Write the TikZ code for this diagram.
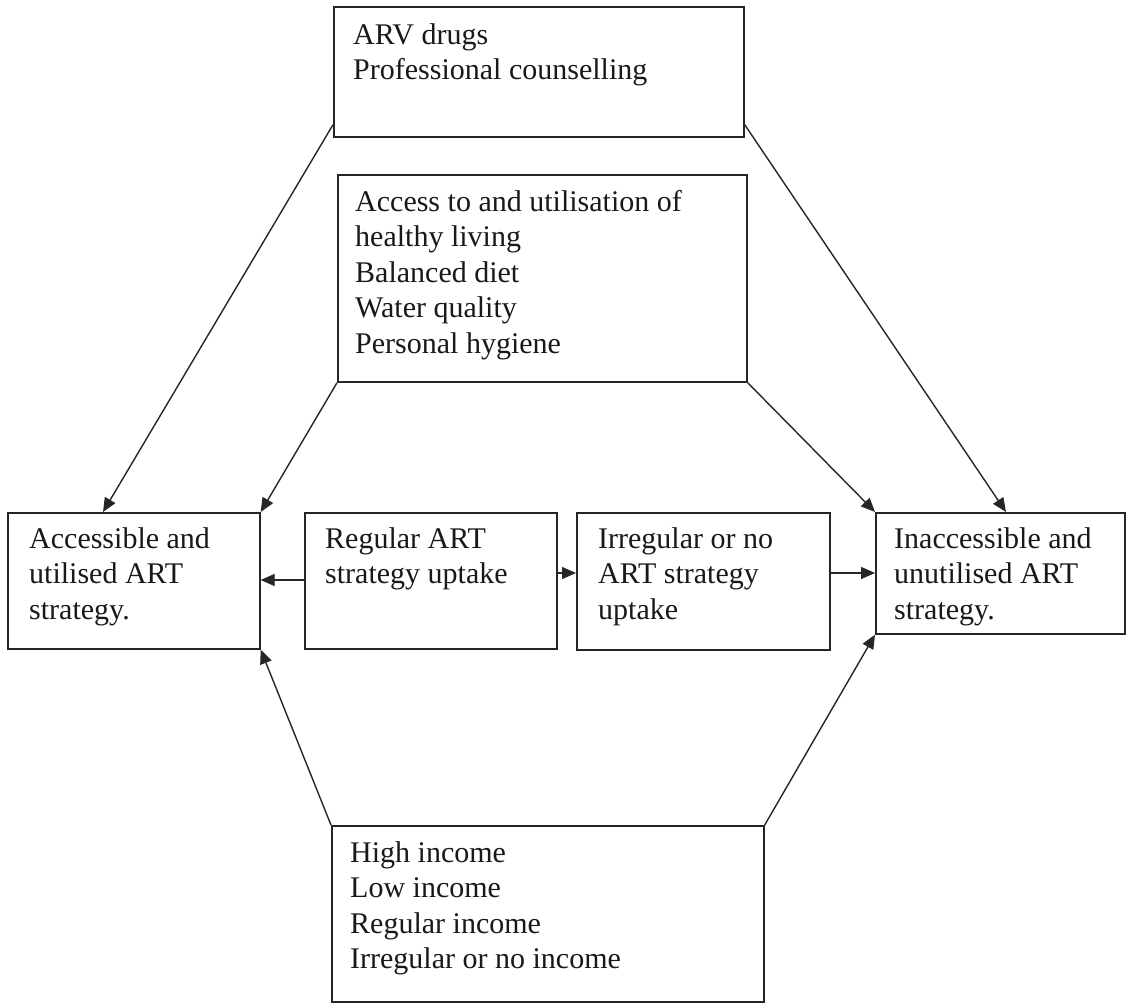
\documentclass[tikz,border=0pt]{standalone}
\usepackage{fontspec}
\setmainfont{Liberation Serif}
\usetikzlibrary{arrows.meta,calc}
\tikzset{
  box/.style={draw=black!85, line width=1.7pt, inner sep=0pt, anchor=north west},
  txt/.style={inner sep=0pt, anchor=north west, align=left, text=black!90,
              font=\fontsize{30}{35.5}\selectfont},
  arr/.style={draw=black!85, line width=1.4pt, -{Triangle[length=14pt,width=12pt]}},
}
\newcommand{\bx}[5]{\node[box, minimum width=#4pt, minimum height=#5pt] (#1) at (#2,#3) {};}
\begin{document}
\begin{tikzpicture}[x=1pt,y=-1pt]
\useasboundingbox[fill=white] (0,0) rectangle (1126,1003);
% boxes
\bx{drugs}{333}{6}{410}{130}
\bx{living}{337}{174}{409}{207}
\bx{acc}{7}{512}{252}{136}
\bx{reg}{304}{512}{252}{136}
\bx{irr}{576}{512}{253}{137}
\bx{inacc}{875}{512}{249}{121}
\bx{inc}{331}{825}{432}{176}
% texts (north = first baseline - 24.85)
\node[txt] (tdrugs) at (353,19) {\strut ARV drugs\\Professional counselling};
\node[txt] (tliving) at (355,186) {\strut Access to and utilisation of\\healthy living\\Balanced diet\\Water quality\\Personal hygiene};
\node[txt] (tacc) at (29,523) {\strut Accessible and\\utilised ART\\strategy.};
\node[txt] (treg) at (325,523) {\strut Regular ART\\strategy uptake};
\node[txt] (tirr) at (598,523) {\strut Irregular or no\\ART strategy\\uptake};
\node[txt] (tinacc) at (894,523) {\strut Inaccessible and\\unutilised ART\\strategy.};
\node[txt] (tinc) at (350,837) {\strut High income\\Low income\\Regular income\\Irregular or no income};
% connectors
\draw[arr] ($(drugs.south west)+(0,-13)$) -- ($(acc.north west)+(96,0)$);
\draw[arr] ($(drugs.south east)+(0,-13)$) -- ($(inacc.north west)+(131,0)$);
\draw[arr] (living.south west) -- (acc.north east);
\draw[arr] (living.south east) -- (inacc.north west);
\draw[arr] ($(reg.north west)+(0,68)$) -- ($(acc.north east)+(0,68)$);
\draw[arr] ($(reg.north east)+(0,61)$) -- ($(irr.north west)+(0,61)$);
\draw[arr] ($(irr.north east)+(0,61)$) -- ($(inacc.north west)+(0,61)$);
\draw[arr] (inc.north west) -- (acc.south east);
\draw[arr] (inc.north east) -- (inacc.south west);
\end{tikzpicture}
\end{document}
